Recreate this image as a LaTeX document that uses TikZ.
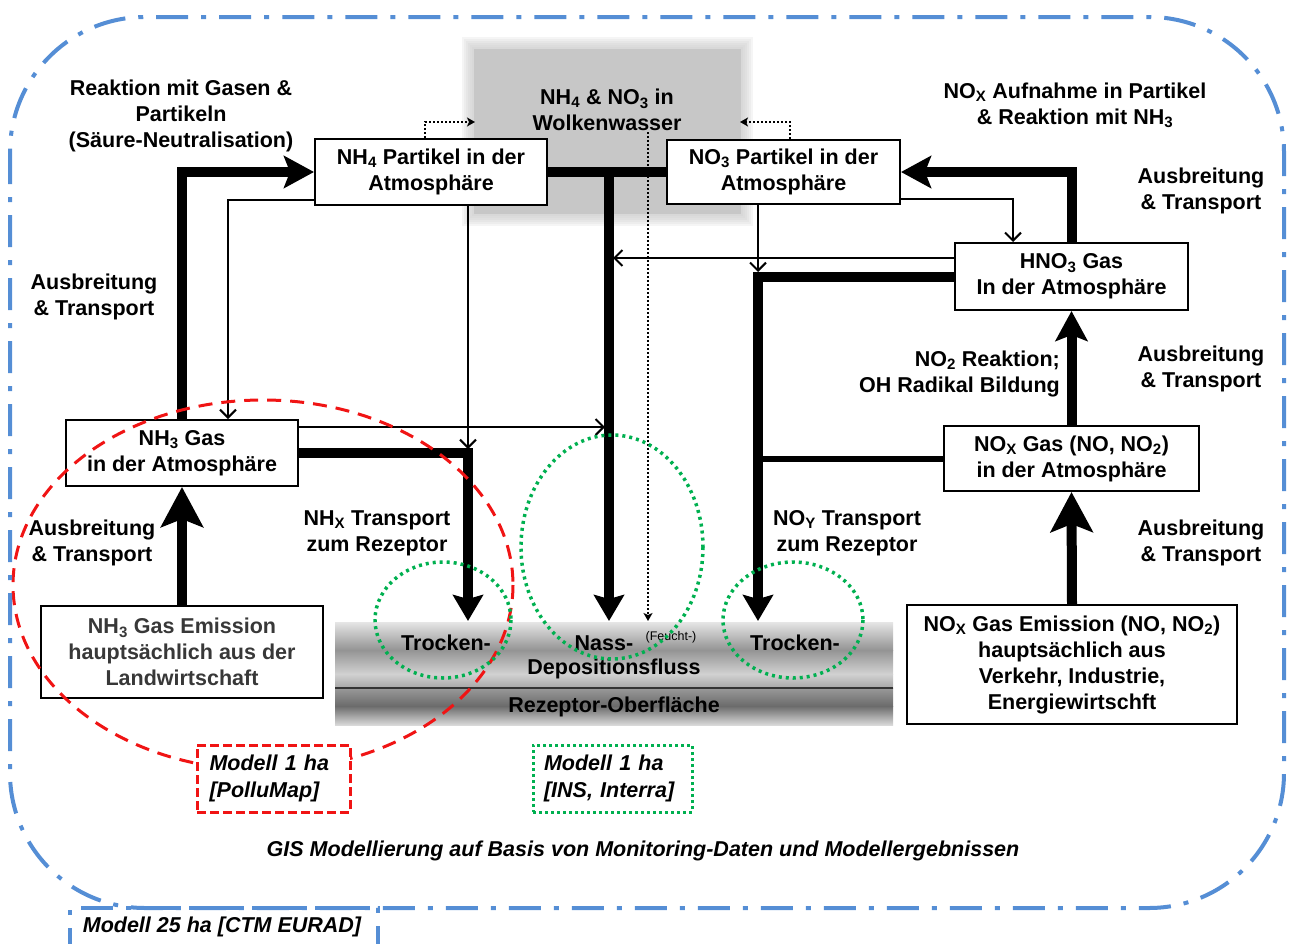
\documentclass[tikz,border=0pt]{standalone}
\usepackage{fontspec}
\setmainfont{Liberation Sans}
\usetikzlibrary{arrows.meta}
\newcommand{\sbs}[1]{\textsubscript{#1}}
\definecolor{frameblue}{RGB}{85,142,213}
\definecolor{dotgreen}{RGB}{0,176,80}
\definecolor{dashred}{RGB}{240,20,20}
\begin{document}
\begin{tikzpicture}[x=1pt, y=-1pt,
  txt/.style={font=\bfseries\fontsize{21.5}{26}\selectfont, align=center, inner sep=0pt},
  box/.style={txt, draw, line width=2pt, fill=white},
  bigline/.style={line width=10pt},
  hd/.style={-{Stealth[length=30pt,width=32pt,inset=6pt]}},
  bighd/.style={-{Stealth[length=40pt,width=42pt,inset=8pt]}},
  drop/.style={-{Stealth[length=26pt,width=30pt,inset=4pt]}},
  thinl/.style={line width=2pt},
  thinhd/.style={-{Straight Barb[length=8pt,width=16pt]}},
  dotl/.style={line width=2pt, dash pattern=on 2pt off 2pt, -{Stealth[length=8pt,width=9pt,inset=2pt]}},
  greenring/.style={draw=dotgreen, line width=3.5pt, dash pattern=on 3pt off 4pt},
  frame/.style={draw=frameblue, line width=4pt, dash pattern=on 32pt off 13pt on 5pt off 13pt},
  modeltxt/.style={font=\bfseries\itshape\fontsize{21.5}{27}\selectfont}
]
\useasboundingbox (0,0) rectangle (1291,943);
\clip (0,0) rectangle (1291,943);

% cloud background
\foreach \i in {1,...,6}
  \fill[black!22, opacity=0.18] ({474-2*\i},{49-2*\i}) rectangle ({741+2*\i},{214+2*\i});
\fill[black!22] (474,49) rectangle (741,214);
\node[txt] (cloud) at (607,110) {NH\sbs{4} \& NO\sbs{3} in\\Wolkenwasser};

% receptor band
\shade[top color=black!10, bottom color=black!42] (335,622) rectangle (893,650);
\shade[top color=black!42, bottom color=black!18] (335,650) rectangle (893,674);
\shade[top color=black!18, bottom color=black!35] (335,674) rectangle (893,688);
\shade[top color=black!40, bottom color=black!58] (335,688) rectangle (893,706);
\shade[top color=black!58, bottom color=black!15] (335,706) rectangle (893,725);
\draw[black!80, line width=2pt] (335,688) -- (893,688);
\node[txt] (tr1) at (446,643) {Trocken-};
\node[txt] (nass) at (604,643) {Nass-};
\node[font=\fontsize{12.5}{14}\selectfont, inner sep=0pt] (feucht) at (671,637) {(Feucht-)};
\node[txt] (tr2) at (795,643) {Trocken-};
\node[txt] (depo) at (614,669) {Depositionsfluss};
\node[txt] (rez) at (614,707) {Rezeptor-Oberfläche};

% boxes
\node[box, minimum width=232pt, minimum height=66pt] (nh4p) at (431,172) {NH\sbs{4} Partikel in der\\Atmosphäre};
\node[box, minimum width=233pt, minimum height=64pt] (no3p) at (783.5,172) {NO\sbs{3} Partikel in der\\Atmosphäre};
\node[box, minimum width=233pt, minimum height=67pt] (hno3) at (1071.5,276.5) {HNO\sbs{3} Gas\\In der Atmosphäre};
\node[box, minimum width=255pt, minimum height=65pt] (noxg) at (1071.5,458.5) {NO\sbs{X} Gas (NO, NO\sbs{2})\\in der Atmosphäre};
\node[box, minimum width=330pt, minimum height=119pt] (noxe) at (1072,664.5) {NO\sbs{X} Gas Emission (NO, NO\sbs{2})\\hauptsächlich aus\\Verkehr, Industrie,\\Energiewirtschft};
\node[box, minimum width=232pt, minimum height=66pt] (nh3g) at (182,453) {NH\sbs{3} Gas\\in der Atmosphäre};
\node[box, minimum width=282pt, minimum height=92pt, text=black!78] (nh3e) at (182,652) {NH\sbs{3} Gas Emission\\hauptsächlich aus der\\Landwirtschaft};

% labels
\node[txt] (l1) at (181,116) {Reaktion mit Gasen \&\\Partikeln\\(Säure-Neutralisation)};
\node[txt] (l2) at (1075,105) {NO\sbs{X} Aufnahme in Partikel\\\& Reaktion mit NH\sbs{3}};
\node[txt] (l3) at (1201,191) {Ausbreitung\\\& Transport};
\node[txt] (l4) at (94,297) {Ausbreitung\\\& Transport};
\node[txt] (l5) at (92,543) {Ausbreitung\\\& Transport};
\node[txt, align=right, anchor=east] (l6) at (1060,374) {NO\sbs{2} Reaktion;\\OH Radikal Bildung};
\node[txt] (l7) at (1201,369) {Ausbreitung\\\& Transport};
\node[txt] (l8) at (1201,543) {Ausbreitung\\\& Transport};
\node[txt] (l9) at (377,533) {NH\sbs{X} Transport\\zum Rezeptor};
\node[txt] (l10) at (847,533) {NO\sbs{Y} Transport\\zum Rezeptor};

% coordinates
\coordinate (c1) at (228,200);
\coordinate (wet) at (609,172);
\coordinate (wetend) at (609,621);
\coordinate (d1) at (425,122);
\coordinate (d1e) at (475,122);
\coordinate (d2) at (790,122);
\coordinate (d2e) at (740,122);
\coordinate (fs) at (648,132);
\coordinate (fe) at (648,621);
\coordinate (nhxc) at (468,453);
\coordinate (nhxa) at (468,449);
\coordinate (nhxend) at (468,621);
\coordinate (w1) at (605,427);
\coordinate (noyc) at (758,277);
\coordinate (noya) at (758,272);
\coordinate (noyend) at (758,621);
\coordinate (w2) at (613,258);
\coordinate (c3) at (1013,199);

% connectors
\draw[bigline, hd] (nh3g.north) |- (nh4p.west);
\draw[thinl, thinhd] (nh4p.west |- c1) -- (c1) -- (c1 |- nh3g.north);
\draw[bigline] (nh4p.east) -- (no3p.west);
\draw[bigline, drop] (wet) -- (wetend);
\draw[dotl] (nh4p.north -| d1) -- (d1) -- (d1e);
\draw[dotl] (no3p.north -| d2) -- (d2) -- (d2e);
\draw[line width=1.6pt, dash pattern=on 2pt off 2pt, -{Stealth[length=8pt,width=9pt,inset=2pt]}] (fs) -- (fe);
\draw[thinl, thinhd] (nh4p.south -| nhxa) -- (nhxa);
\draw[bigline, drop] (nh3g.east) -- (nhxc) -- (nhxend);
\draw[thinl, thinhd] (nh3g.east |- w1) -- (w1);
\draw[thinl, thinhd] (no3p.south -| noya) -- (noya);
\draw[bigline, drop] (hno3.west |- noyc) -- (noyc) -- (noyend);
\draw[thinl, thinhd] (hno3.west |- w2) -- (w2);
\draw[thinl, thinhd] (no3p.east |- c3) -- (c3) -- (c3 |- hno3.north);
\draw[bigline, hd] (hno3.north) |- (no3p.east);
\draw[bigline, hd] (noxg.north) -- (hno3.south);
\draw[bigline, bighd] (noxe.north) -- (noxg.south);
\draw[bigline, bighd] (nh3e.north) -- (nh3g.south);
\draw[line width=6pt] (noxg.west) -- (noxg.west -| noyc);

% rings
\draw[dashred, line width=3pt, dash pattern=on 14pt off 9pt] (263,585) ellipse [x radius=250, y radius=185];
\draw[greenring] (443,620) ellipse [x radius=68, y radius=58];
\draw[greenring] (612,547) ellipse [x radius=91, y radius=112];
\draw[greenring] (793,620) ellipse [x radius=70, y radius=58];

% model boxes
\node[draw=dashred, line width=3pt, dash pattern=on 9pt off 4pt, fill=white, minimum width=153pt, minimum height=67pt, text width=128pt, align=left, inner sep=0pt, modeltxt] (pm) at (273.5,778.5) {Modell 1 ha\\{[PolluMap]}};
\node[draw=dotgreen, line width=3pt, dash pattern=on 3pt off 3pt, fill=white, minimum width=159pt, minimum height=67pt, text width=137pt, align=left, inner sep=0pt, modeltxt] (ins) at (612.5,778.5) {Modell 1 ha\\{[INS, Interra]}};
\node[modeltxt, inner sep=0pt] (gis) at (643,851) {GIS Modellierung auf Basis von Monitoring-Daten und Modellergebnissen};

% frame
\draw[frame, rounded corners=135pt] (10,17) rectangle (1284,908);
\draw[frame] (70,960) -- (70,908) -- (378,908) -- (378,960);
\node[modeltxt, inner sep=0pt] (eurad) at (222,927) {Modell 25 ha [CTM EURAD]};
\end{tikzpicture}
\end{document}
